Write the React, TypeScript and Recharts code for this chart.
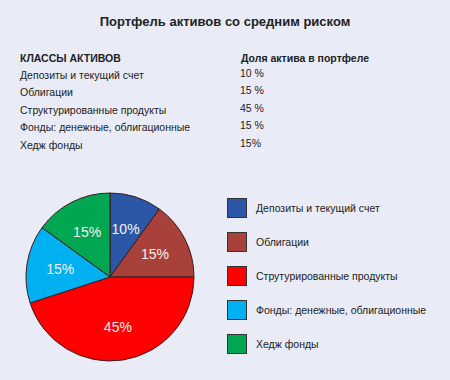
import { PieChart, Pie, Cell } from "recharts"

const title = "Портфель активов со средним риском"
const headerClass = "КЛАССЫ АКТИВОВ"
const headerShare = "Доля актива в портфеле"
const categories = [
  "Депозиты и текущий счет",
  "Облигации",
  "Структурированные продукты",
  "Фонды: денежные, облигационные",
  "Хедж фонды",
]
const legendNames = [
  "Депозиты и текущий счет",
  "Облигации",
  "Струтурированные продукты",
  "Фонды: денежные, облигационные",
  "Хедж фонды",
]
const shares = [10, 15, 45, 15, 15]
const shareLabels = ["10 %", "15 %", "45 %", "15 %", "15%"]
const colors = ["#2c57a6", "#a9413b", "#ff0000", "#00b0f0", "#00a651"]

const data = categories.map((name, i) => ({ name, legend: legendNames[i], value: shares[i] }))

const font = '"Liberation Sans", Arial, sans-serif'
const RAD = Math.PI / 180

const renderLabel = (props: any) => {
  const { cx, cy, midAngle, outerRadius, value } = props
  const r = outerRadius * 0.6
  const x = cx + r * Math.cos(-midAngle * RAD)
  const y = cy + r * Math.sin(-midAngle * RAD)
  return (
    <text x={x} y={y} fill="#f6f0f0" fontSize={14} fontFamily={font} textAnchor="middle" dominantBaseline="central">
      {value}%
    </text>
  )
}

export default function App() {
  return (
    <div style={{ position: "absolute", left: 0, top: 0, width: 450, height: 380, background: "#e9ecf6", fontFamily: font, color: "#222" }}>
      <div style={{ position: "absolute", top: 14, width: 450, textAlign: "center", fontWeight: "bold", fontSize: 13 }}>
        {title}
      </div>
      <div style={{ position: "absolute", left: 20, top: 52, fontSize: 10.5, fontWeight: "bold" }}>{headerClass}</div>
      <div style={{ position: "absolute", left: 241, top: 52, fontSize: 10.5, fontWeight: "bold" }}>{headerShare}</div>
      {categories.map((c, i) => (
        <div key={c}>
          <div style={{ position: "absolute", left: 20, top: 69 + i * 17.4, fontSize: 10.5 }}>{c}</div>
          <div style={{ position: "absolute", left: 240, top: 67 + i * 17.4, fontSize: 10.5 }}>{shareLabels[i]}</div>
        </div>
      ))}
      <div style={{ position: "absolute", left: 0, top: 0 }}>
        <PieChart width={450} height={380} margin={{ top: 0, right: 0, bottom: 0, left: 0 }}>
          <Pie
            data={data}
            dataKey="value"
            nameKey="name"
            cx={110}
            cy={277}
            outerRadius={84}
            startAngle={90}
            endAngle={-270}
            stroke="#3a1c1c"
            strokeWidth={1}
            label={renderLabel}
            labelLine={false}
            isAnimationActive={false}
          >
            {data.map((d, i) => (
              <Cell key={d.name} fill={colors[i]} />
            ))}
          </Pie>
        </PieChart>
      </div>
      <div style={{ position: "absolute", left: 227, top: 191, fontSize: 10.5 }}>
        {data.map((d, i) => (
          <div key={d.name} style={{ display: "flex", alignItems: "center", height: 34 }}>
            <div style={{ width: 18, height: 18, background: colors[i], border: "1px solid #333", marginRight: 9 }} />
            <span>{d.legend}</span>
          </div>
        ))}
      </div>
    </div>
  )
}
